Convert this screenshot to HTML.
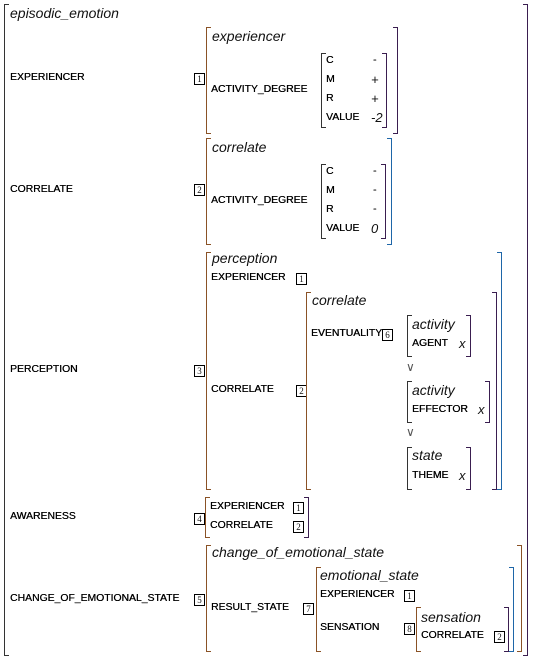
<!DOCTYPE html>
<html><head><meta charset="utf-8"><style>
body{margin:0;width:537px;height:662px;background:#fff;position:relative;overflow:hidden;font-family:"Liberation Sans",sans-serif;color:#111}
.t{position:absolute;font-size:10.4px;line-height:14px;white-space:nowrap;color:#000;text-shadow:0.3px 0 0 #000}
.i{position:absolute;font-size:14px;line-height:18px;font-style:italic;white-space:nowrap}
.v{position:absolute;font-size:13px;line-height:16px;font-style:italic;white-space:nowrap}
.tag{position:absolute;width:9px;height:10px;border:1px solid #000;font-size:9px;line-height:10px;text-align:center;font-family:"Liberation Serif",serif}
.lb{position:absolute;width:4px;border:1.5px solid #8a5226;border-right:none}
.rb{position:absolute;width:4px;border:1.5px solid #1e66a8;border-left:none}
.rd{border-color:#3a1e50}
.ld{border-color:#333}
.or{position:absolute;font-size:12px;line-height:14px;color:#555}
</style></head><body>
<div class="lb ld" style="left:4px;top:4px;height:650px"></div>
<div class="rb rd" style="left:523px;top:4px;height:650px"></div>
<div class="i" style="left:10px;top:4px">episodic_emotion</div>

<div class="t" style="left:10px;top:71px">EXPERIENCER</div>
<div class="tag" style="left:194px;top:73px">1</div>
<div class="lb" style="left:206px;top:27px;height:105px"></div>
<div class="rb rd" style="left:393px;top:27px;height:105px"></div>
<div class="i" style="left:212px;top:27px">experiencer</div>
<div class="t" style="left:211px;top:83px">ACTIVITY_DEGREE</div>
<div class="lb ld" style="left:321px;top:53px;height:73px"></div>
<div class="rb rd" style="left:382px;top:53px;height:73px"></div>
<div class="t" style="left:326px;top:54px">C</div><div class="t" style="left:373px;top:54px">-</div>
<div class="t" style="left:326px;top:73px">M</div><div class="v" style="left:371px;top:72px">+</div>
<div class="t" style="left:326px;top:92px">R</div><div class="v" style="left:371px;top:91px">+</div>
<div class="t" style="left:326px;top:111px">VALUE</div><div class="v" style="left:371px;top:110px">-2</div>

<div class="t" style="left:10px;top:183px">CORRELATE</div>
<div class="tag" style="left:194px;top:184px">2</div>
<div class="lb" style="left:206px;top:138px;height:105px"></div>
<div class="rb" style="left:387px;top:138px;height:105px"></div>
<div class="i" style="left:212px;top:138px">correlate</div>
<div class="t" style="left:211px;top:194px">ACTIVITY_DEGREE</div>
<div class="lb ld" style="left:321px;top:164px;height:73px"></div>
<div class="rb rd" style="left:381px;top:164px;height:73px"></div>
<div class="t" style="left:326px;top:165px">C</div><div class="t" style="left:373px;top:165px">-</div>
<div class="t" style="left:326px;top:184px">M</div><div class="t" style="left:373px;top:184px">-</div>
<div class="t" style="left:326px;top:203px">R</div><div class="t" style="left:373px;top:203px">-</div>
<div class="t" style="left:326px;top:222px">VALUE</div><div class="v" style="left:371px;top:221px">0</div>

<div class="t" style="left:10px;top:363px">PERCEPTION</div>
<div class="tag" style="left:194px;top:365px">3</div>
<div class="lb" style="left:206px;top:252px;height:236px"></div>
<div class="rb" style="left:497px;top:252px;height:236px"></div>
<div class="i" style="left:212px;top:249px">perception</div>
<div class="t" style="left:211px;top:271px">EXPERIENCER</div>
<div class="tag" style="left:296px;top:273px">1</div>
<div class="t" style="left:211px;top:383px">CORRELATE</div>
<div class="tag" style="left:296px;top:385px">2</div>
<div class="lb" style="left:306px;top:292px;height:196px"></div>
<div class="rb rd" style="left:492px;top:292px;height:196px"></div>
<div class="i" style="left:312px;top:291px">correlate</div>
<div class="t" style="left:311px;top:327px">EVENTUALITY</div>
<div class="tag" style="left:382px;top:329px">6</div>
<div class="lb ld" style="left:407px;top:315px;height:40px"></div>
<div class="rb rd" style="left:466px;top:315px;height:40px"></div>
<div class="i" style="left:412px;top:315px">activity</div>
<div class="t" style="left:412px;top:337px">AGENT</div><div class="v" style="left:459px;top:336px">x</div>
<div class="or" style="left:406px;top:360px">∨</div>
<div class="lb ld" style="left:407px;top:381px;height:40px"></div>
<div class="rb rd" style="left:485px;top:381px;height:40px"></div>
<div class="i" style="left:412px;top:381px">activity</div>
<div class="t" style="left:412px;top:403px">EFFECTOR</div><div class="v" style="left:478px;top:402px">x</div>
<div class="or" style="left:406px;top:425px">∨</div>
<div class="lb ld" style="left:407px;top:447px;height:41px"></div>
<div class="rb rd" style="left:466px;top:447px;height:41px"></div>
<div class="i" style="left:412px;top:446px">state</div>
<div class="t" style="left:412px;top:469px">THEME</div><div class="v" style="left:459px;top:468px">x</div>

<div class="t" style="left:10px;top:510px">AWARENESS</div>
<div class="tag" style="left:194px;top:513px">4</div>
<div class="lb" style="left:205px;top:497px;height:39px"></div>
<div class="rb rd" style="left:304px;top:497px;height:39px"></div>
<div class="t" style="left:210px;top:500px">EXPERIENCER</div>
<div class="tag" style="left:293px;top:502px">1</div>
<div class="t" style="left:210px;top:519px">CORRELATE</div>
<div class="tag" style="left:293px;top:521px">2</div>

<div class="t" style="left:10px;top:592px">CHANGE_OF_EMOTIONAL_STATE</div>
<div class="tag" style="left:194px;top:594px">5</div>
<div class="lb" style="left:206px;top:545px;height:105px"></div>
<div class="rb" style="left:517px;top:545px;height:105px;border-color:#8a5226"></div>
<div class="i" style="left:212px;top:543px">change_of_emotional_state</div>
<div class="t" style="left:211px;top:601px">RESULT_STATE</div>
<div class="tag" style="left:303px;top:603px">7</div>
<div class="lb" style="left:316px;top:567px;height:83px"></div>
<div class="rb" style="left:509px;top:567px;height:83px"></div>
<div class="i" style="left:320px;top:566px">emotional_state</div>
<div class="t" style="left:320px;top:588px">EXPERIENCER</div>
<div class="tag" style="left:404px;top:590px">1</div>
<div class="t" style="left:320px;top:621px">SENSATION</div>
<div class="tag" style="left:404px;top:623px">8</div>
<div class="lb" style="left:416px;top:607px;height:43px"></div>
<div class="rb rd" style="left:504px;top:607px;height:43px"></div>
<div class="i" style="left:421px;top:608px">sensation</div>
<div class="t" style="left:421px;top:629px">CORRELATE</div>
<div class="tag" style="left:494px;top:631px">2</div>
</body></html>
